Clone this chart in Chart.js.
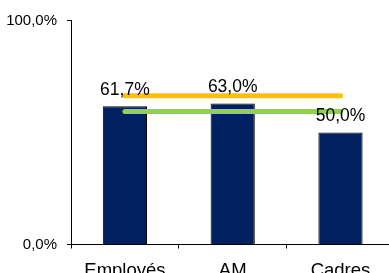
<!DOCTYPE html>
<html><head><meta charset="utf-8">
<script src="https://cdn.jsdelivr.net/npm/chart.js@4"></script>
<style>html,body{margin:0;padding:0;overflow:hidden;background:#fff}#w{width:395px;height:273px;position:relative}</style>
</head><body><div id="w"><canvas id="c"></canvas></div>
<script>
const categories = ['Employés', 'AM', 'Cadres'];
const barValues = [61.7, 63.0, 50.0];
const orangeValues = [66.4, 66.4, 66.4];
const greenValues = [59.4, 59.4, 59.4];
const yTicks = [0, 100];

const FONT = '"Liberation Sans", Arial, sans-serif';
const fmt = v => v.toFixed(1).replace('.', ',') + '%';

const labelPlugin = {
  id: 'barLabels',
  afterDatasetsDraw(chart) {
    const ctx = chart.ctx;
    const meta = chart.getDatasetMeta(2);
    ctx.save();
    ctx.font = '17.5px ' + FONT;
    ctx.fillStyle = '#000';
    ctx.textAlign = 'center';
    ctx.textBaseline = 'alphabetic';
    meta.data.forEach((b, i) => {
      ctx.fillText(fmt(barValues[i]), b.x, b.y - 11.5);
    });
    ctx.restore();
  }
};

new Chart(document.getElementById('c'), {
  data: {
    labels: categories,
    datasets: [
      { type: 'line', data: orangeValues, borderColor: '#FFC000', borderWidth: 5,
        borderCapStyle: 'round', pointRadius: 0, order: 1 },
      { type: 'line', data: greenValues, borderColor: '#92D050', borderWidth: 5,
        borderCapStyle: 'round', pointRadius: 0, order: 1 },
      { type: 'bar', data: barValues, backgroundColor: '#002060', borderColor: '#000',
        borderWidth: 1, barPercentage: 0.41, categoryPercentage: 1, order: 2 }
    ]
  },
  options: {
    responsive: true, maintainAspectRatio: false, animation: false,
    layout: { padding: { top: 20.5, right: 0.6, left: 0, bottom: 0 } },
    plugins: { legend: { display: false }, tooltip: { enabled: false } },
    scales: {
      x: {
        offset: true,
        grid: { display: true, drawOnChartArea: false, tickLength: 4, color: '#000', offset: true },
        border: { display: true, color: '#000', width: 1 },
        ticks: { color: '#000', font: { family: FONT, size: 18.5 }, padding: 11.5, maxRotation: 0 },
        afterFit(s) { s.height = 28.5; }
      },
      y: {
        min: 0, max: 100,
        grid: { display: true, drawOnChartArea: false, tickLength: 4, color: '#000' },
        border: { display: true, color: '#000', width: 1 },
        afterBuildTicks(s) { s.ticks = yTicks.map(v => ({ value: v })); },
        ticks: { color: '#000', font: { family: FONT, size: 15 }, padding: 10,
          callback: v => fmt(v) },
        afterFit(s) { s.width = 71; }
      }
    }
  },
  plugins: [labelPlugin]
});
</script>
</body></html>
